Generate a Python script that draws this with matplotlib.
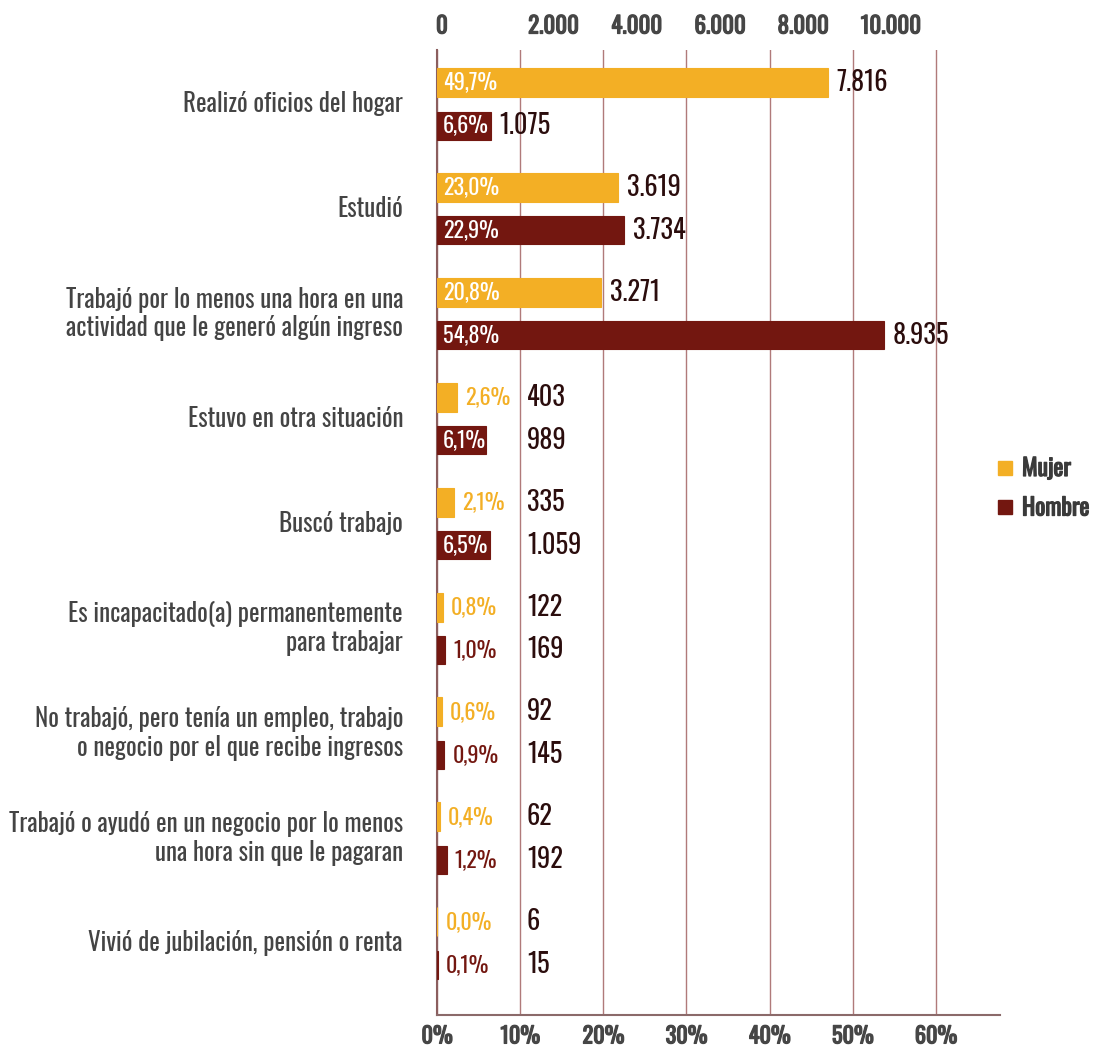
import matplotlib
matplotlib.use('Agg')
import matplotlib.pyplot as plt
from matplotlib import font_manager as fm
from matplotlib.lines import Line2D
import matplotlib.patheffects as pe

# ---------------- data ----------------
categories = [
    "Realizó oficios del hogar",
    "Estudió",
    "Trabajó por lo menos una hora en una\nactividad que le generó algún ingreso",
    "Estuvo en otra situación",
    "Buscó trabajo",
    "Es incapacitado(a) permanentemente\npara trabajar",
    "No trabajó, pero tenía un empleo, trabajo\no negocio por el que recibe ingresos",
    "Trabajó o ayudó en un negocio por lo menos\nuna hora sin que le pagaran",
    "Vivió de jubilación, pensión o renta",
]
mujer_n = [7816, 3619, 3271, 403, 335, 122, 92, 62, 6]
hombre_n = [1075, 3734, 8935, 989, 1059, 169, 145, 192, 15]
mujer_pct = [49.7, 23.0, 20.8, 2.6, 2.1, 0.8, 0.6, 0.4, 0.0]
hombre_pct = [6.6, 22.9, 54.8, 6.1, 6.5, 1.0, 0.9, 1.2, 0.1]
series_names = ["Mujer", "Hombre"]
pct_ticks = [0, 10, 20, 30, 40, 50, 60]
top_labels = ["0", "2.000", "4.000", "6.000", "8.000", "10.000"]

# ---------------- fonts ----------------
avail = {f.name for f in fm.fontManager.ttflist}
FONT = None
for cand in ["Oswald", "Roboto Condensed", "Liberation Sans Narrow", "DejaVu Sans"]:
    if cand in avail:
        FONT = cand
        break
plt.rcParams['font.family'] = [FONT, 'DejaVu Sans']

def _w(v):
    try:
        return int(v)
    except Exception:
        return 700 if 'bold' in str(v) else 400
HAS_BOLD = any(f.name == FONT and _w(f.weight) >= 600 for f in fm.fontManager.ttflist)

ORANGE = "#F3AF25"
RED = "#731710"
CAT_COLOR = "#444444"
NUM_COLOR = "#2B0D0D"
TICK_COLOR = "#464646"
GRID = "#B07A7A"

def bold_fx(color, lw=0.9):
    if HAS_BOLD:
        return []
    return [pe.withStroke(linewidth=lw, foreground=color)]

# layout
W, H = 1094, 1047
PX_PER_COUNT = 0.05
X0, X1, YT, YB = 437, 1000, 50, 1015
COUNT_PER_10PCT = 1663
first_center, spacing, offset = 104, 104.9, 21.5

fig = plt.figure(figsize=(W / 100, H / 100), dpi=100)
ax = fig.add_axes([X0 / W, 1 - YB / H, (X1 - X0) / W, (YB - YT) / H])
ax.set_xlim(0, (X1 - X0) / PX_PER_COUNT)
ax.set_ylim(YB, YT)

centers = [first_center + spacing * i for i in range(len(categories))]
ym = [c - offset for c in centers]
yh = [c + offset for c in centers]

ax.barh(ym, mujer_n, height=29, color=ORANGE, edgecolor=ORANGE, lw=0.8, zorder=3)
ax.barh(yh, hombre_n, height=28, color=RED, edgecolor=RED, lw=0.8, zorder=3)

tick_pos = [p / 10 * COUNT_PER_10PCT for p in pct_ticks]
ax.set_xticks(tick_pos)
ax.set_xticklabels([f"{p}%" for p in pct_ticks], fontsize=16, fontweight='bold', color=TICK_COLOR)
for t in ax.get_xticklabels():
    t.set_path_effects(bold_fx(TICK_COLOR))
ax.tick_params(axis='x', length=0, pad=7.5)
ax.set_yticks([])
ax.grid(axis='x', color=GRID, lw=1, zorder=0)
for s in ['top', 'right']:
    ax.spines[s].set_visible(False)
ax.spines['left'].set_color('#8B5E5E')
ax.spines['left'].set_linewidth(1.5)
ax.spines['bottom'].set_color('#8B6A6A')
ax.spines['bottom'].set_linewidth(1.5)

# top labels
for i, lab in enumerate(top_labels):
    dx = -1 if i == 0 else 8
    ax.annotate(lab, xy=(tick_pos[i], 1), xycoords=('data', 'axes fraction'),
                xytext=(dx, 24), textcoords='offset pixels', ha='left', va='center',
                fontsize=16.5, fontweight='bold', color=TICK_COLOR,
                path_effects=bold_fx(TICK_COLOR))

# category labels
for c, lab in zip(centers, categories):
    ax.annotate(lab, xy=(0, c), xycoords='data', xytext=(-34, 0), textcoords='offset pixels',
                ha='right', va='center', fontsize=18, color=CAT_COLOR, linespacing=1.12)

# percent labels
THRESH = 900
for ys, ns, ps, col in [(ym, mujer_n, mujer_pct, ORANGE), (yh, hombre_n, hombre_pct, RED)]:
    for y, n, p in zip(ys, ns, ps):
        txt = f"{p:.1f}%".replace('.', ',')
        if n > THRESH:
            ax.annotate(txt, xy=(0, y), xytext=(6, 0), textcoords='offset pixels',
                        ha='left', va='center', fontsize=16, color='white', zorder=5)
        else:
            ax.annotate(txt, xy=(n, y), xytext=(8, 0), textcoords='offset pixels',
                        ha='left', va='center', fontsize=16, color=col, zorder=5)

# count labels
COL_X = 1800
def fmt(n):
    return f"{n:,}".replace(',', '.')
for i in range(len(categories)):
    inside = mujer_n[i] > THRESH and hombre_n[i] > THRESH
    for y, n in [(ym[i], mujer_n[i]), (yh[i], hombre_n[i])]:
        if inside:
            ax.annotate(fmt(n), xy=(n, y), xytext=(9, 0), textcoords='offset pixels',
                        ha='left', va='center', fontsize=19, color=NUM_COLOR)
        else:
            ax.annotate(fmt(n), xy=(COL_X, y), ha='left', va='center',
                        fontsize=19, color=NUM_COLOR)

handles = [Line2D([], [], marker='s', ls='', color=ORANGE, markersize=9.5),
           Line2D([], [], marker='s', ls='', color=RED, markersize=9.5)]
leg = fig.legend(handles, series_names, loc='upper left', bbox_to_anchor=(997 / W, 1 - 457 / H),
                 frameon=False, prop={'weight': 'bold', 'size': 17}, labelspacing=0.7,
                 handletextpad=0.36, handlelength=0.7, labelcolor='#3A3A3A',
                 borderpad=0, borderaxespad=0)
for t in leg.get_texts():
    t.set_path_effects(bold_fx('#3A3A3A'))

fig.savefig('out.png', dpi=100)
